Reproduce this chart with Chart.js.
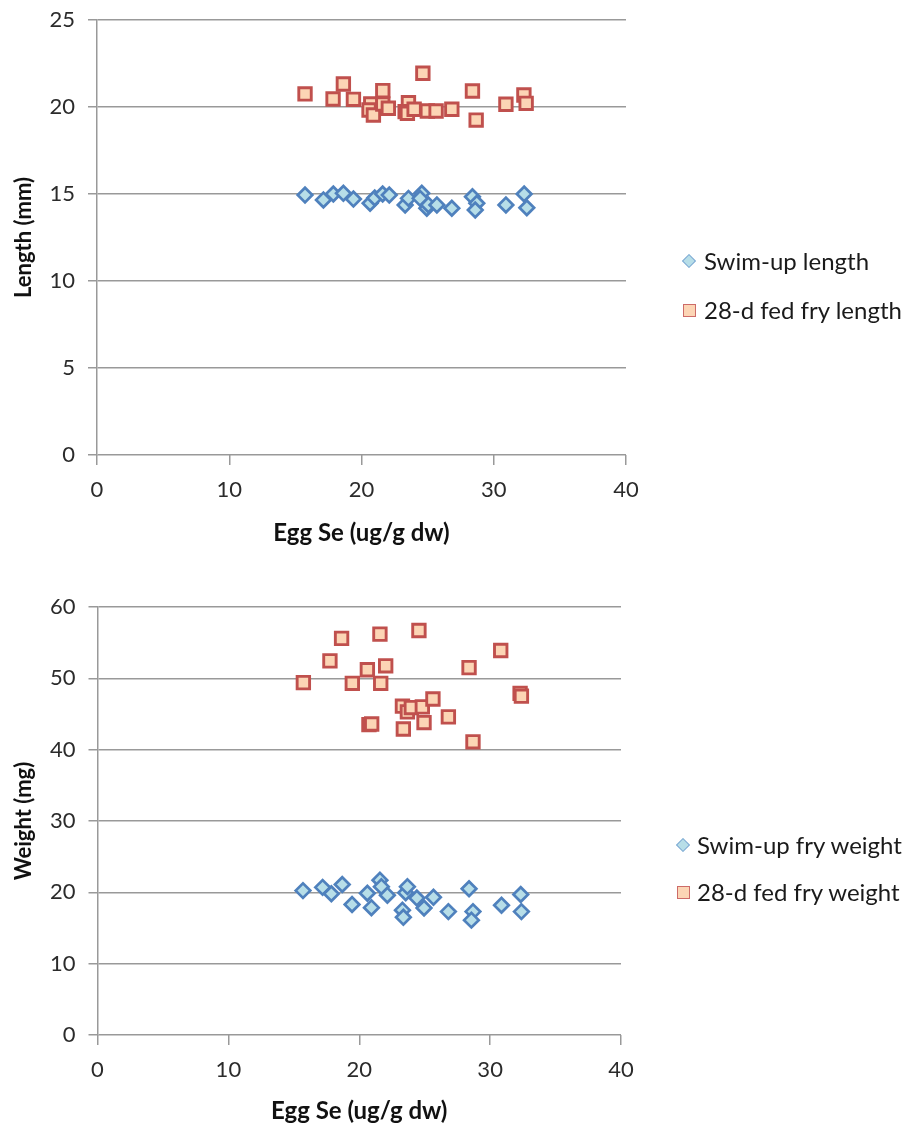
<!DOCTYPE html>
<html>
<head>
<meta charset="utf-8">
<script src="https://cdn.jsdelivr.net/npm/chart.js@4/dist/chart.umd.min.js"></script>
<style>
  html, body { margin: 0; padding: 0; background: #ffffff; }
  #wrap { position: relative; width: 907px; height: 1130px; overflow: hidden; font-family: Lato, "Open Sans", sans-serif; }
  .cv { position: absolute; left: 0; width: 907px; height: 565px; }
  .leg { position: absolute; font-size: 24px; color: #1a1a1a; white-space: nowrap; line-height: 28px; height: 28px; }
  .leg .txt { position: absolute; left: 0; top: 0; }
  .mk { position: absolute; box-sizing: border-box; }
  .mk.dia { width: 10px; height: 10px; background: #b7dee8; border: 1px solid #7fa9d4; transform: rotate(45deg); }
  .mk.sq { width: 13px; height: 13px; background: #fcd5b5; border: 1.5px solid #cd6b68; }
</style>
</head>
<body>
<div id="wrap">
  <canvas id="c1" class="cv" width="907" height="565" style="top:0px"></canvas>
  <canvas id="c2" class="cv" width="907" height="565" style="top:565px"></canvas>
  <div class="mk dia" style="left:684px; top:256px;"></div>
  <div class="leg" style="left:704px; top:247px;"><span class="txt">Swim-up length</span></div>
  <div class="mk sq" style="left:682.5px; top:303.5px;"></div>
  <div class="leg" style="left:704px; top:296px;"><span class="txt">28-d fed fry length</span></div>
  <div class="mk dia" style="left:678px; top:840px;"></div>
  <div class="leg" style="left:697px; top:831px;"><span class="txt">Swim-up fry weight</span></div>
  <div class="mk sq" style="left:676.5px; top:885.5px;"></div>
  <div class="leg" style="left:697px; top:878px;"><span class="txt">28-d fed fry weight</span></div>
</div>
<script>
// ---- data ----
const eggSeTicks = [0, 10, 20, 30, 40];
const lengthTicks = [0, 5, 10, 15, 20, 25];
const weightTicks = [0, 10, 20, 30, 40, 50, 60];

const swimLenEggSe = [15.73, 17.12, 17.87, 18.63, 19.39, 20.65, 21.0, 21.6, 22.1, 23.3, 23.55, 24.56, 24.43, 24.94, 25.06, 25.7, 26.83, 28.39, 28.72, 28.6, 30.92, 32.3, 32.5];
const swimLen = [14.94, 14.66, 15.0, 15.04, 14.71, 14.47, 14.77, 15.0, 14.94, 14.37, 14.75, 15.04, 14.75, 14.18, 14.37, 14.37, 14.18, 14.84, 14.47, 14.08, 14.37, 15.0, 14.21];

const fedLenEggSe = [15.73, 17.85, 18.63, 19.39, 20.7, 20.57, 20.9, 21.61, 21.61, 22.03, 23.55, 23.3, 23.47, 23.98, 24.64, 24.98, 25.64, 26.83, 28.39, 28.67, 30.92, 32.28, 32.45];
const fedLen = [20.75, 20.46, 21.32, 20.44, 20.17, 19.83, 19.54, 20.94, 20.17, 19.93, 20.25, 19.73, 19.64, 19.87, 21.94, 19.77, 19.77, 19.87, 20.92, 19.25, 20.16, 20.69, 20.21];

const swimWtEggSe = [15.7, 17.2, 17.87, 18.7, 19.45, 20.62, 20.93, 21.58, 21.69, 22.15, 23.55, 23.68, 23.3, 23.37, 24.4, 24.95, 25.67, 26.81, 28.39, 28.69, 28.57, 30.87, 32.34, 32.39];
const swimWt = [20.24, 20.7, 19.8, 21.1, 18.3, 19.87, 17.85, 21.7, 20.8, 19.6, 19.95, 20.8, 17.5, 16.5, 19.2, 17.8, 19.3, 17.3, 20.5, 17.3, 16.1, 18.2, 19.7, 17.3];

const fedWtEggSe = [15.73, 17.76, 18.65, 19.47, 20.62, 20.74, 20.95, 21.58, 21.64, 22.02, 23.3, 23.37, 23.68, 23.98, 24.56, 24.82, 24.95, 25.63, 26.81, 28.39, 28.69, 30.81, 32.29, 32.39];
const fedWt = [49.4, 52.45, 55.6, 49.3, 51.2, 43.5, 43.6, 56.2, 49.3, 51.75, 46.1, 42.9, 45.3, 45.9, 56.7, 46.0, 43.8, 47.1, 44.6, 51.5, 41.1, 53.9, 47.9, 47.5];

const seriesNames = ['Swim-up length', '28-d fed fry length', 'Swim-up fry weight', '28-d fed fry weight'];
const xTitle = 'Egg Se (ug/g dw)';

// ---- helpers ----
function pts(xs, ys) { return xs.map((x, i) => ({ x: x, y: ys[i] })); }

const FONT = 'Lato, "Open Sans", sans-serif';
const GRID = '#999999';

function diamondSet(label, data) {
  return { label, data, pointStyle: 'rectRot', pointRadius: 7.3, pointHoverRadius: 7.3,
    backgroundColor: '#b7dee8', borderColor: '#4f81bd', pointBorderWidth: 2.7, borderWidth: 2.7, showLine: false };
}
function squareSet(label, data) {
  return { label, data, pointStyle: 'rect', pointRadius: 8.8, pointHoverRadius: 8.8,
    backgroundColor: '#fcd5b5', borderColor: '#c0504d', pointBorderWidth: 2.9, borderWidth: 2.9, showLine: false };
}

function makeChart(id, datasets, yTicks, yTitle, opts) {
  const ySteps = yTicks[1] - yTicks[0];
  return new Chart(document.getElementById(id), {
    type: 'scatter',
    data: { datasets },
    options: {
      responsive: false,
      animation: false,
      events: [],
      layout: { padding: { left: 0, top: opts.top, right: opts.right, bottom: 0 } },
      plugins: { legend: { display: false }, tooltip: { enabled: false } },
      scales: {
        x: {
          type: 'linear',
          min: eggSeTicks[0], max: eggSeTicks[eggSeTicks.length - 1],
          ticks: { stepSize: eggSeTicks[1] - eggSeTicks[0], padding: 12, color: '#2b2b2b', font: { family: FONT, size: 22 } },
          grid: { drawOnChartArea: false, drawTicks: true, tickLength: 10, color: GRID, lineWidth: 1.5 },
          border: { display: false },
          title: { display: true, text: xTitle, color: '#111111', font: { family: FONT, size: 24, weight: 'bold' }, padding: { top: 0, bottom: opts.xTitlePad } },
          afterFit: (s) => { s.height = opts.xHeight; s.paddingLeft = 0; s.paddingRight = 0; }
        },
        y: {
          type: 'linear',
          min: yTicks[0], max: yTicks[yTicks.length - 1],
          ticks: { stepSize: ySteps, padding: 13, color: '#2b2b2b', font: { family: FONT, size: 22 } },
          grid: { drawTicks: true, tickLength: 9, color: GRID, lineWidth: 1.5 },
          border: { display: true, color: GRID, width: 1.5 },
          title: { display: true, text: yTitle, color: '#111111', font: { family: FONT, size: 22, weight: 'bold' }, padding: { top: 10.8, bottom: 0 } },
          afterFit: (s) => { s.width = opts.yWidth; s.paddingTop = 0; s.paddingBottom = 0; }
        }
      }
    }
  });
}

makeChart('c1', [
  diamondSet(seriesNames[0], pts(swimLenEggSe, swimLen)),
  squareSet(seriesNames[1], pts(fedLenEggSe, fedLen))
], lengthTicks, 'Length (mm)', { top: 20, right: 281, xHeight: 110, xTitlePad: 17.6, yWidth: 97 });

makeChart('c2', [
  diamondSet(seriesNames[2], pts(swimWtEggSe, swimWt)),
  squareSet(seriesNames[3], pts(fedWtEggSe, fedWt))
], weightTicks, 'Weight (mg)', { top: 42, right: 286, xHeight: 95, xTitlePad: 4.6, yWidth: 97.5 });
</script>
</body>
</html>
